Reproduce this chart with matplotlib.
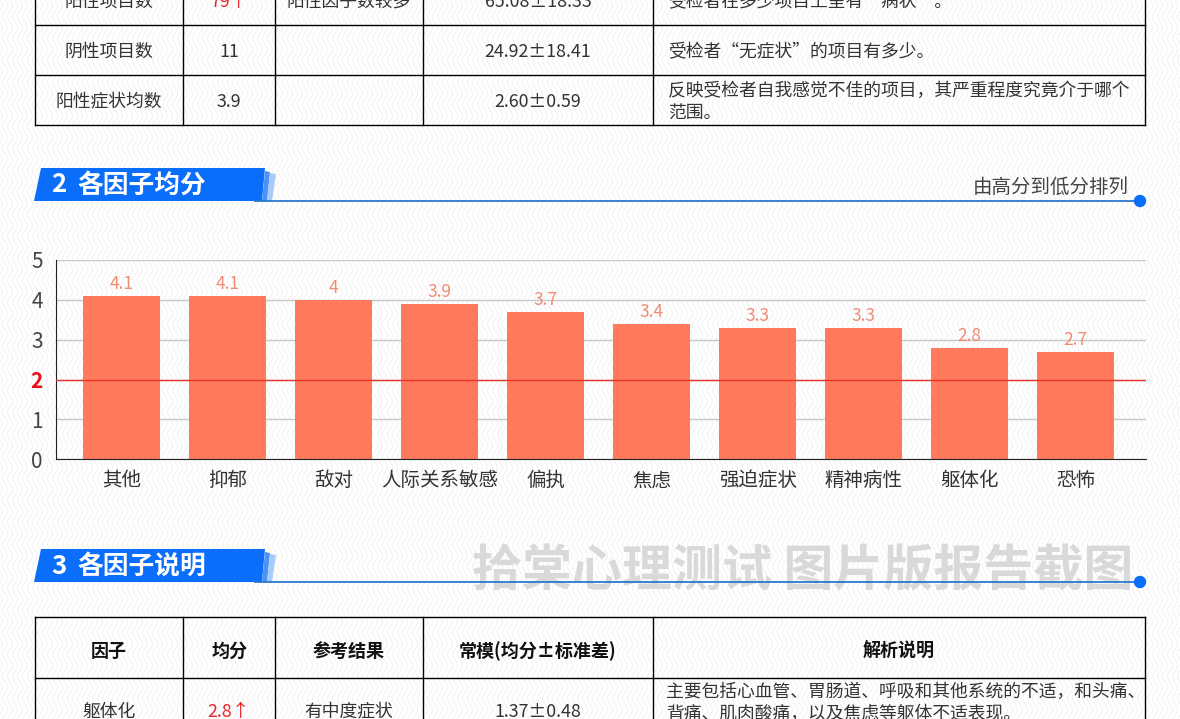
import matplotlib.pyplot as plt
import numpy as np
from matplotlib.patches import Polygon, Circle

plt.rcParams['font.family'] = ['Noto Sans CJK SC', 'DejaVu Sans']

# chart data
factors = ['其他', '抑郁', '敌对', '人际关系敏感', '偏执', '焦虑', '强迫症状', '精神病性', '躯体化', '恐怖']
scores = [4.1, 4.1, 4, 3.9, 3.7, 3.4, 3.3, 3.3, 2.8, 2.7]
norm_line = 2

# table above the chart
top_names = ['阳性项目数', '阴性项目数', '阳性症状均数']
top_values = ['79↑', '11', '3.9']
top_results = ['阳性因子数较多', '', '']
top_norms = ['65.08±18.33', '24.92±18.41', '2.60±0.59']
top_notes = [['受检者在多少项目上呈有“病状”。'],
             ['受检者“无症状”的项目有多少。'],
             ['反映受检者自我感觉不佳的项目，其严重程度究竟介于哪个', '范围。']]

# table below the chart
bottom_header = ['因子', '均分', '参考结果', '常模(均分±标准差)', '解析说明']
bottom_row = ['躯体化', '2.8↑', '有中度症状', '1.37±0.48']
bottom_note = ['主要包括心血管、胃肠道、呼吸和其他系统的不适，和头痛、',
               '背痛、肌肉酸痛，以及焦虑等躯体不适表现。']

W, H = 1180, 719
BLUE = '#0A6EFA'
RED = '#E8262D'
TXT = '#333333'

fig = plt.figure(figsize=(W / 100, H / 100), dpi=100)
fig.patch.set_facecolor('white')

# wavy background pattern
bg = fig.add_axes([0, 0, 1, 1], zorder=0)
bg.set_xlim(0, W)
bg.set_ylim(H, 0)
bg.axis('off')
yy = np.linspace(0, H, 500)
for x0 in np.arange(-10, W + 10, 5):
    bg.plot(x0 + 2.5 * np.sin(2 * np.pi * yy / 22), yy, color='#efefef', lw=0.6)

# overlay in pixel coords
ov = fig.add_axes([0, 0, 1, 1], zorder=2)
ov.set_xlim(0, W)
ov.set_ylim(H, 0)
ov.axis('off')
ov.patch.set_alpha(0)

cols = [35, 183, 275, 423, 653, 1145]
centers = [(cols[i] + cols[i + 1]) / 2 for i in range(4)]
fs = 12.8

# ---- top table ----
row_lines = [-25, 25, 75, 125]
for y in row_lines:
    ov.plot([cols[0], cols[-1]], [y, y], color='black', lw=1)
for x in cols:
    ov.plot([x, x], [row_lines[0], row_lines[-1]], color='black', lw=1)
for i in range(3):
    yc = (row_lines[i] + row_lines[i + 1]) / 2 + 2
    ov.text(centers[0], yc, top_names[i], ha='center', va='center', fontsize=fs, color=TXT)
    ov.text(centers[1], yc, top_values[i], ha='center', va='center', fontsize=fs,
            color=RED if '↑' in top_values[i] else TXT)
    ov.text(centers[2], yc, top_results[i], ha='center', va='center', fontsize=fs, color=TXT)
    ov.text(centers[3], yc, top_norms[i], ha='center', va='center', fontsize=fs, color=TXT)
    notes = top_notes[i]
    for k, line in enumerate(notes):
        ov.text(668, yc + (k - (len(notes) - 1) / 2) * 22, line, ha='left', va='center',
                fontsize=fs, color=TXT)


# ---- section headers ----
def section(y_top, num, title, line_start):
    y_bot = y_top + 33
    ov.add_patch(Polygon([(34, y_bot), (41, y_top), (265, y_top), (262, y_bot)],
                         closed=True, color=BLUE, lw=0, zorder=3))
    ov.add_patch(Polygon([(262, y_bot), (265, y_top + 3), (270, y_top + 4), (267, y_bot)],
                         closed=True, color='#4C93F7', lw=0, zorder=3))
    ov.add_patch(Polygon([(267, y_bot), (270, y_top + 5), (276, y_top + 6), (272, y_bot)],
                         closed=True, color='#A9CBFA', lw=0, zorder=3))
    ov.plot([line_start, 1140], [y_bot, y_bot], color='#2A78D0', lw=1.3, zorder=4)
    ov.add_patch(Circle((1140, y_bot), 5.5, color=BLUE, zorder=5))
    ov.text(51, y_top + 17, num, ha='left', va='center', fontsize=18.5,
            fontweight='bold', color='white', zorder=4)
    ov.text(77, y_top + 17, title, ha='left', va='center', fontsize=18.5,
            fontweight='bold', color='white', zorder=4)


section(168, '2', '各因子均分', 255)
ov.text(1129, 187, '由高分到低分排列', ha='right', va='center', fontsize=14, color='#444444')

# watermark
ov.text(803, 572, '拾棠心理测试 图片版报告截图', ha='center', va='center', fontsize=36,
        fontweight='heavy', color='#d9d9d9', zorder=2.5)
section(549, '3', '各因子说明', 255)

# ---- bottom table ----
b_lines = [617, 678, 760]
for y in b_lines:
    ov.plot([cols[0], cols[-1]], [y, y], color='black', lw=1)
for x in cols:
    ov.plot([x, x], [b_lines[0], b_lines[-1]], color='black', lw=1)
hc = 651
for i, h in enumerate(bottom_header):
    xc = (cols[i] + cols[i + 1]) / 2
    ov.text(xc, hc, h, ha='center', va='center', fontsize=13, fontweight='bold', color='#111111')
rc = 712
for i, v in enumerate(bottom_row):
    ov.text(centers[i], rc, v, ha='center', va='center', fontsize=fs,
            color=RED if '↑' in v else TXT)
for k, line in enumerate(bottom_note):
    ov.text(666, 692 + k * 22, line, ha='left', va='center', fontsize=fs, color=TXT)

# ---- bar chart ----
ax_l, ax_r, ax_t, ax_b = 55.5, 1145.6, 260, 459.3
ax = fig.add_axes([ax_l / W, (H - ax_b) / H, (ax_r - ax_l) / W, (ax_b - ax_t) / H], zorder=1)
ax.patch.set_alpha(0)
x = np.arange(len(factors))
bars = ax.bar(x, scores, width=0.73, color='#FF7A5C', zorder=2)
for xi, s in zip(x, scores):
    ax.annotate(f'{s:g}', (xi, s), xytext=(0, 2), textcoords='offset points',
                ha='center', va='bottom', fontsize=12.5, color='#F08C74')
ax.axhline(norm_line, color='#E8362D', lw=1, zorder=3)
ax.set_xlim(-0.623, 9.66)
ax.set_ylim(0, 5)
ax.set_yticks(range(6))
ax.set_xticks(x)
ax.set_xticklabels(factors, fontsize=14, color=TXT)
ax.tick_params(axis='x', length=0, pad=8)
ax.tick_params(axis='y', length=0, pad=9, labelsize=15, labelcolor='#444444')
for lab in ax.get_yticklabels():
    if lab.get_text() == str(norm_line):
        lab.set_color('#E8101A')
        lab.set_fontweight('bold')
ax.grid(axis='y', color='#c8c8c8', lw=1, zorder=0)
for side in ['top', 'right']:
    ax.spines[side].set_visible(False)
ax.spines['left'].set_color('#222222')
ax.spines['bottom'].set_color('#222222')

fig.savefig('out.png', dpi=100)
